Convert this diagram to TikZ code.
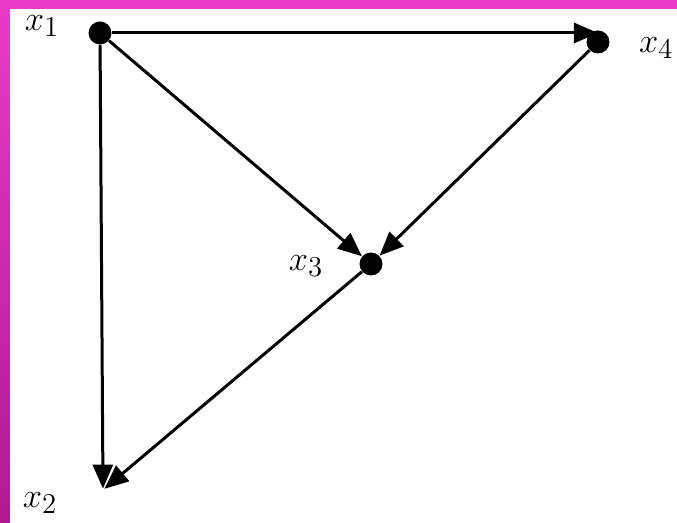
\documentclass[tikz,border=0pt]{standalone}
\usetikzlibrary{arrows.meta}
\definecolor{framemag}{HTML}{E83CC8}
\definecolor{framepurple}{HTML}{B01890}
\begin{document}
\begin{tikzpicture}[x=0.5pt, y=-0.5pt,
    vertex/.style={fill=black, circle, inner sep=0pt, minimum size=11.5pt},
    edge/.style={line width=1.5pt, -{Triangle[length=12pt, width=10pt]}},
    lbl/.style={font=\fontsize{19}{22}\selectfont}]
            % frame
            \useasboundingbox (0,0) rectangle (677,523);
            \shade[top color=framemag, bottom color=framepurple] (0,0) rectangle (677,523);
            \fill[white] (10,9) rectangle (677,523);
            % vertices
            \node[vertex] (x1) at (100, 33) {};
            \node[vertex] (x4) at (598, 42) {};
            \node[vertex] (x3) at (371, 264) {};
            \node[inner sep=0pt] (x2) at (103, 490) {};
            % labels
            \node[lbl] (l1) at (42, 26) {$x_1$};
            \node[lbl, anchor=west] (l4) at (632, 48) {$x_4$};
            \node[lbl] (l3) at (306, 266) {$x_3$};
            \node[lbl] (l2) at (40, 503) {$x_2$};
            % edges
            \draw[edge] (x1) -- (x1 -| x4);
            \draw[edge] (x1) -- (x3);
            \draw[edge] (x4) -- (x3);
            \draw[edge] (x1) -- (x2);
            \draw[edge] (x3) -- (x2);
        \end{tikzpicture}
\end{document}
